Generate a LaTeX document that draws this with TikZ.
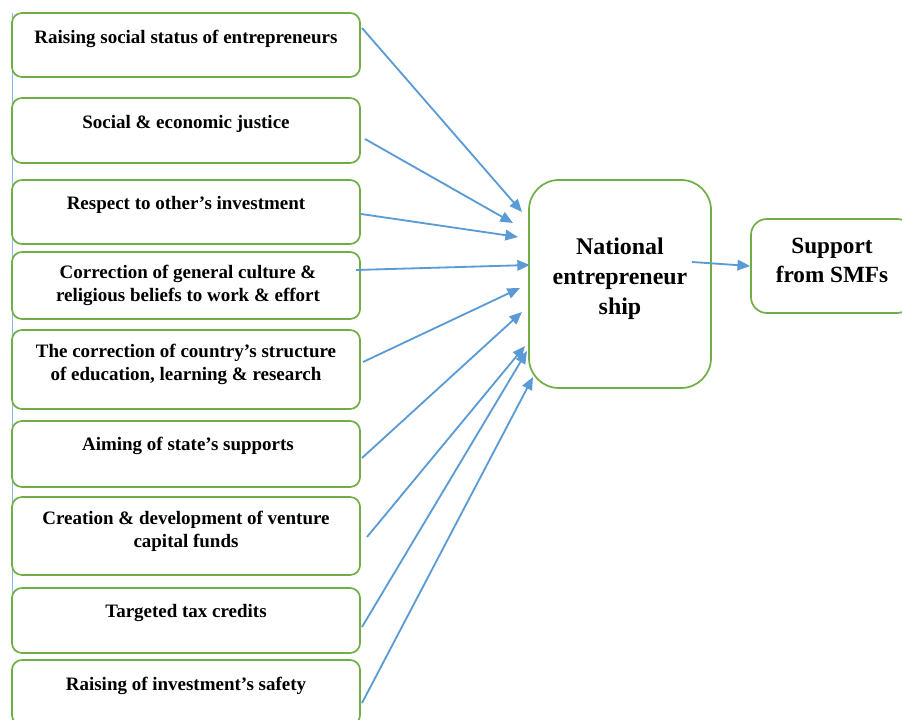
\documentclass[tikz,border=0pt]{standalone}
\usepackage{fontspec}
\setmainfont{Liberation Serif}
\usetikzlibrary{arrows.meta}

\definecolor{boxgreen}{RGB}{112,173,71}
\definecolor{arrowblue}{RGB}{91,155,213}

\tikzset{
	factor/.style={draw=boxgreen, line width=1.2pt, rounded corners=0.25cm, minimum width=8.7cm, inner sep=0pt},
	ftext/.style={align=center, inner sep=0pt, font=\fontsize{13.5}{16.3}\selectfont\bfseries},
	link/.style={draw=arrowblue, line width=1.3pt, -{Triangle[length=9pt,width=7.5pt]}},
}

\begin{document}
\begin{tikzpicture}[x=0.025cm, y=-0.025cm]
		
		\useasboundingbox (0,0) rectangle (902,720);
		
		% thin line along the left edge
		\draw[arrowblue!70, line width=0.5pt] (12,13) -- (12,595);
		
		% Factor boxes
		\node[factor, minimum height=1.6cm] (f1) at (186,45) {};
		\node[factor, minimum height=1.625cm] (f2) at (186,130.5) {};
		\node[factor, minimum height=1.6cm] (f3) at (186,212) {};
		\node[factor, minimum height=1.675cm] (f4) at (186,285.5) {};
		\node[factor, minimum height=1.975cm] (f5) at (186,369.5) {};
		\node[factor, minimum height=1.65cm] (f6) at (186,454) {};
		\node[factor, minimum height=1.95cm] (f7) at (186,536) {};
		\node[factor, minimum height=1.625cm] (f8) at (186,620.5) {};
		\node[factor, minimum height=1.625cm] (f9) at (186,692.5) {};
		
		% Factor texts
		\node[ftext] (t1) at (186,39) {Raising social status of entrepreneurs};
		\node[ftext] (t2) at (186,124) {Social \& economic justice};
		\node[ftext] (t3) at (186,205) {Respect to other’s investment};
		\node[ftext] (t4) at (188,285.5) {Correction of general culture \&\\religious beliefs to work \& effort};
		\node[ftext] (t5) at (186,364.5) {The correction of country’s structure\\of education, learning \& research};
		\node[ftext] (t6) at (188,446) {Aiming of state’s supports};
		\node[ftext] (t7) at (186,531.5) {Creation \& development of venture\\capital funds};
		\node[ftext] (t8) at (186,613) {Targeted tax credits};
		\node[ftext] (t9) at (186,686) {Raising of investment’s safety};
		
		% National entrepreneurship
		\node[draw=boxgreen, line width=1.2pt, rounded corners=0.75cm, minimum width=4.55cm, minimum height=5.2cm] (ne) at (620,284) {};
		\node[align=center, inner sep=0pt, font=\fontsize{17}{21.5}\selectfont\bfseries] (net) at (620,279) {National\\entrepreneur\\ship};
		
		% Support from SMFs
		\node[draw=boxgreen, line width=1.2pt, rounded corners=0.4cm, minimum width=4.05cm, minimum height=2.35cm] (smf) at (832,266) {};
		\node[align=center, inner sep=0pt, font=\fontsize{16.5}{20.5}\selectfont\bfseries] (smft) at (832,260.5) {Support\\from SMFs};
		
		% Arrow ends
		\foreach \i/\sx/\sy/\ex/\ey in {1/362/28/522/212, 2/365/139/513/223, 3/361/214/518/237,
			4/356/270/530/265, 5/363/362/520/288, 6/362/458/522/312,
			7/367/537/525/346, 8/362/627/527/351, 9/362/703/533/377} {
			\coordinate (s\i) at (\sx,\sy);
			\coordinate (e\i) at (\ex,\ey);
			\draw[link] (s\i) -- (e\i);
		}
		
		\coordinate (nes) at (692,262);
		\draw[link] (nes) -- (smf.west);
		
	\end{tikzpicture}
\end{document}
